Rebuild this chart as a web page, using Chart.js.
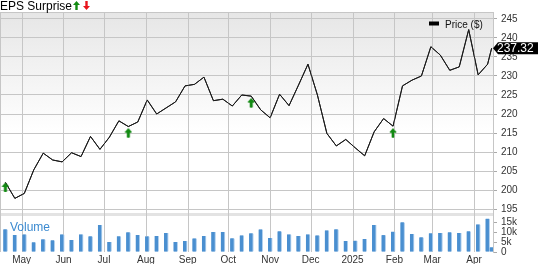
<!DOCTYPE html>
<html><head><meta charset="utf-8">
<script src="https://cdn.jsdelivr.net/npm/chart.js@4"></script>
<style>html,body{margin:0;padding:0;background:#fff;}canvas{display:block;}</style>
</head><body>
<canvas id="c" width="538" height="264"></canvas>
<script>
const weekDates = ['2024-04-19','2024-04-26','2024-05-03','2024-05-10','2024-05-17','2024-05-24','2024-05-31',
  '2024-06-07','2024-06-14','2024-06-21','2024-06-28','2024-07-05','2024-07-12','2024-07-19','2024-07-26',
  '2024-08-02','2024-08-09','2024-08-16','2024-08-23','2024-08-30','2024-09-06','2024-09-13','2024-09-20','2024-09-27',
  '2024-10-04','2024-10-11','2024-10-18','2024-10-25','2024-11-01','2024-11-08','2024-11-15','2024-11-22','2024-11-29',
  '2024-12-06','2024-12-13','2024-12-20','2024-12-27','2025-01-03','2025-01-10','2025-01-17','2025-01-24','2025-01-31',
  '2025-02-07','2025-02-14','2025-02-21','2025-02-28','2025-03-07','2025-03-14','2025-03-21','2025-03-28',
  '2025-04-04','2025-04-11','2025-04-14'];
const priceValues = [202.0,197.8,199.1,205.3,209.7,207.9,207.4,209.8,208.8,214.1,210.7,213.9,218.2,216.7,217.9,
  223.7,220.0,221.6,223.2,227.4,227.8,229.7,223.5,223.9,222.1,225.0,224.7,221.1,219.0,225.2,222.2,227.6,233.1,
  225.0,214.9,211.6,213.3,211.1,209.0,215.3,218.8,216.8,227.4,228.9,230.0,237.7,235.5,231.5,232.4,242.2,230.3,233.1,237.32];
const volumeValues = [11300,8500,8700,4800,6300,5800,8700,6000,8700,7800,13500,5000,7800,9800,8500,7800,8000,9500,
  5000,5500,6700,8000,10000,10000,6800,8200,9300,11200,7000,10300,8700,8000,8700,8200,10700,11300,5500,5600,6500,
  13500,8400,10100,14800,9000,7300,9300,9500,9800,9500,10300,13700,16600,2300];
const epsDates = ['2024-04-19','2024-07-19','2024-10-18','2025-01-31'];
const epsValues = [201.9,216.2,224.1,216.2];
const monthTickDates = ['2024-05-01','2024-06-01','2024-07-01','2024-08-01','2024-09-01','2024-10-01','2024-11-01',
  '2024-12-01','2025-01-01','2025-02-01','2025-03-01','2025-04-01'];
const monthTickLabels = ['May','Jun','Jul','Aug','Sep','Oct','Nov','Dec','2025','Feb','Mar','Apr'];
const priceTicks = [195,200,205,210,215,220,225,230,235,240,245];
const volumeTicks = [0,5000,10000,15000];
const lastPrice = 237.32;

const ORIGIN = Date.UTC(2024,4,1);
const dayOf = s => (Date.parse(s + 'T00:00:00Z') - ORIGIN) / 86400000;
const FONT = "'Liberation Sans', Arial, sans-serif";
const GRID = '#c6c6c6';
Chart.defaults.font.family = FONT;

function arrowImg(color) {
  const c = document.createElement('canvas');
  c.width = 8; c.height = 20;
  const g = c.getContext('2d');
  g.fillStyle = color;
  g.beginPath();
  g.moveTo(4, 10); g.lineTo(7.5, 14); g.lineTo(5.2, 14); g.lineTo(5.2, 19);
  g.lineTo(2.8, 19); g.lineTo(2.8, 14); g.lineTo(0.5, 14);
  g.closePath(); g.fill();
  return c;
}
function drawArrow(ctx, x, y, color, up) {
  ctx.fillStyle = color;
  ctx.beginPath();
  if (up) {
    ctx.moveTo(x + 3.5, y); ctx.lineTo(x + 7, y + 4); ctx.lineTo(x + 4.7, y + 4); ctx.lineTo(x + 4.7, y + 9);
    ctx.lineTo(x + 2.3, y + 9); ctx.lineTo(x + 2.3, y + 4); ctx.lineTo(x, y + 4);
  } else {
    ctx.moveTo(x + 3.5, y + 9); ctx.lineTo(x + 7, y + 5); ctx.lineTo(x + 4.7, y + 5); ctx.lineTo(x + 4.7, y);
    ctx.lineTo(x + 2.3, y); ctx.lineTo(x + 2.3, y + 5); ctx.lineTo(x, y + 5);
  }
  ctx.closePath(); ctx.fill();
}

const decor = {
  id: 'decor',
  beforeDraw(chart) {
    const ctx = chart.ctx, a = chart.chartArea, y = chart.scales.y, yv = chart.scales.yv;
    ctx.save();
    const grad = ctx.createLinearGradient(0, y.top, 0, y.top + 120);
    grad.addColorStop(0, '#e6e6e6');
    grad.addColorStop(1, '#ffffff');
    ctx.fillStyle = grad;
    ctx.fillRect(a.left, y.top, a.right - a.left, y.bottom - y.top);
    ctx.fillStyle = '#e3e3e3';
    ctx.fillRect(a.left, yv.top, a.right - a.left, 3);
    ctx.restore();
  },
  afterDraw(chart) {
    const ctx = chart.ctx, a = chart.chartArea, y = chart.scales.y, x = chart.scales.x;
    const top = Math.round(a.top), h = Math.round(a.bottom) - top;
    ctx.save();
    // vertical month grid lines and left/top border
    ctx.fillStyle = GRID;
    monthTickDates.forEach(d => {
      ctx.fillRect(Math.round(x.getPixelForValue(dayOf(d))), top, 1, h);
    });
    ctx.fillRect(Math.round(a.left), top, 1, h);
    ctx.fillRect(Math.round(a.left), top, Math.round(a.right - a.left), 1);
    ctx.restore();
    // redraw the datasets on top of the vertical grid lines (through their controllers)
    ctx.save();
    ctx.beginPath(); ctx.rect(a.left, a.top, a.right - a.left, a.bottom - a.top); ctx.clip();
    [2, 1, 0].forEach(i => chart.getDatasetMeta(i).controller.draw());
    ctx.restore();

    ctx.save();
    ctx.fillStyle = '#000'; ctx.font = '12px ' + FONT; ctx.textBaseline = 'alphabetic'; ctx.textAlign = 'left';
    ctx.fillText('EPS Surprise', 0, 10);
    drawArrow(ctx, 73, 1, '#138a13', true);
    drawArrow(ctx, 83, 1, '#e8141c', false);
    ctx.fillStyle = '#000';
    ctx.fillRect(429, 21.5, 10, 4);
    ctx.font = '10px ' + FONT;
    ctx.fillStyle = '#111';
    ctx.fillText('Price ($)', 445, 28);
    ctx.fillStyle = '#3b8ad0'; ctx.font = '12px ' + FONT;
    ctx.fillText('Volume', 10, 231);
    const py = y.getPixelForValue(lastPrice);
    ctx.fillStyle = '#000';
    ctx.beginPath();
    ctx.moveTo(a.right, py); ctx.lineTo(a.right + 5, py - 6); ctx.lineTo(538, py - 6);
    ctx.lineTo(538, py + 6); ctx.lineTo(a.right + 5, py + 6); ctx.closePath(); ctx.fill();
    ctx.fillStyle = '#fff'; ctx.font = '12px ' + FONT; ctx.textBaseline = 'middle';
    ctx.fillText(lastPrice.toFixed(2), a.right + 4, py + 0.5);
    ctx.restore();
  }
};

const upArrow = arrowImg('#138a13');

new Chart(document.getElementById('c'), {
  type: 'line',
  data: {
    datasets: [
      { type: 'scatter', data: epsDates.map((d, i) => ({x: dayOf(d), y: epsValues[i]})),
        pointStyle: upArrow, pointRadius: 5, yAxisID: 'y', xAxisID: 'x', order: 0 },
      { type: 'line', data: weekDates.map((d, i) => ({x: dayOf(d), y: priceValues[i]})),
        borderColor: '#1a1a1a', borderWidth: 1, pointRadius: 0, tension: 0, yAxisID: 'y', xAxisID: 'x', order: 1 },
      { type: 'bar', data: weekDates.map((d, i) => ({x: dayOf(d), y: volumeValues[i]})),
        backgroundColor: '#4a8fd0', borderColor: '#b3d1ee', borderWidth: {top: 0, left: 0, bottom: 0, right: 1},
        borderSkipped: false, barThickness: 4, yAxisID: 'yv', xAxisID: 'x', order: 2 }
    ]
  },
  options: {
    responsive: false, animation: false, devicePixelRatio: 1,
    layout: { autoPadding: false, padding: { top: 12, left: 0, right: 0, bottom: 0 } },
    plugins: { legend: { display: false }, tooltip: { enabled: false } },
    scales: {
      x: {
        type: 'linear', position: 'bottom', offset: false,
        min: dayOf('2024-04-15'), max: dayOf('2025-04-15'),
        afterBuildTicks: s => { s.ticks = monthTickDates.map(d => ({ value: dayOf(d) })); },
        afterFit: s => { s.height = 12; s.paddingLeft = 0; s.paddingRight = 0; },
        ticks: { autoSkip: false, maxRotation: 0, padding: 2, color: '#333', font: { size: 10 },
          callback: (v, i) => monthTickLabels[i] },
        grid: { display: false, drawTicks: false, offset: false },
        border: { display: false }
      },
      y: {
        type: 'linear', position: 'right', stack: 'panels', stackWeight: 201,
        min: 193.95, max: 246.84,
        afterBuildTicks: s => { s.ticks = priceTicks.map(v => ({ value: v })); },
        afterFit: s => { s.width = 45; },
        ticks: { autoSkip: false, padding: 4, color: '#333', font: { size: 10 } },
        grid: { color: GRID, lineWidth: 1, tickLength: 4, tickColor: '#aaa' },
        border: { display: true, color: GRID }
      },
      yv: {
        type: 'linear', position: 'right', stack: 'panels', stackWeight: 39,
        min: 0, max: 19500,
        afterBuildTicks: s => { s.ticks = volumeTicks.map(v => ({ value: v })); },
        afterFit: s => { s.width = 45; },
        ticks: { autoSkip: false, padding: 4, color: '#333', font: { size: 10 },
          callback: v => v === 0 ? '0' : (v / 1000) + 'k' },
        grid: { drawOnChartArea: false, tickLength: 4, tickColor: '#aaa' },
        border: { display: true, color: GRID }
      }
    }
  },
  plugins: [decor]
});
</script>
</body></html>
